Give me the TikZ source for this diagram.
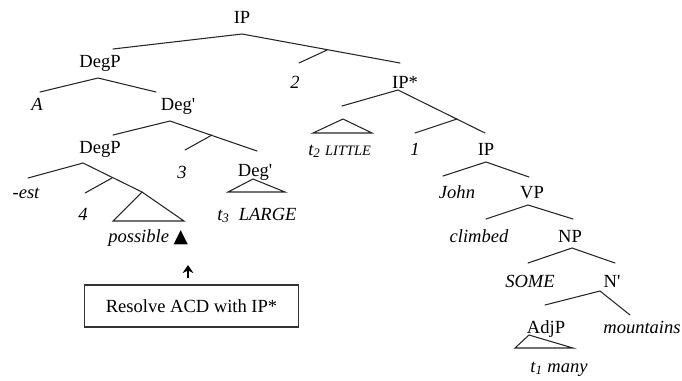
\documentclass[tikz,border=0pt]{standalone}
\usepackage{fontspec}
\setmainfont{Liberation Serif}[Ligatures=TeXOff]
\newfontfamily\symfont{DejaVu Sans}
\usetikzlibrary{arrows.meta}
\begin{document}
\begin{tikzpicture}[x=0.75pt,y=-0.75pt,
  lab/.style={anchor=base, inner sep=0pt, font=\fontsize{13.9}{16}\selectfont},
  itl/.style={lab, font=\fontsize{13.9}{16}\selectfont\itshape},
  br/.style={line width=0.8pt, draw=black!85, line cap=round},
  tri/.style={br, line join=miter},
  boxst/.style={draw=black!80, line width=0.9pt, minimum width=160pt, minimum height=31.5pt, inner sep=0pt, font=\fontsize{13.9}{16}\selectfont},
  arr/.style={line width=1.8pt, -{Stealth[length=6pt,width=8pt]}}]
\useasboundingbox (0,0) rectangle (682,380);

% labels
\node[lab] (ip) at (242,23) {IP};
\node[lab] (degp) at (100,67) {DegP};
\node[itl] (two) at (295,88) {2};
\node[lab] (ipstar) at (405,88) {IP*};
\node[itl] (a) at (37,110) {A};
\node[lab] (degbar) at (178,110) {Deg'};
\node[lab] (degp2) at (100,153) {DegP};
\node[itl] (three) at (182,178) {3};
\node[lab] (degbar2) at (255,176) {Deg'};
\node[itl] (est) at (26,198) {-est};
\node[itl] (four) at (83,220) {4};
\node[itl, anchor=base west] (t3) at (217,220) {t\textsubscript{3}\enspace LARGE};
\node[itl, anchor=base west] (possible) at (108,242) {possible {\upshape\symfont\fontsize{14}{16}\selectfont ▲}};
\node[itl, anchor=base west] (t2) at (308,155) {t\textsubscript{2} {\fontsize{10.8}{12}\selectfont LITTLE}};
\node[itl] (one) at (415,155) {1};
\node[lab] (ip2) at (486,155) {IP};
\node[itl] (john) at (457,198) {John};
\node[lab] (vp) at (532,198) {VP};
\node[itl] (climbed) at (479,242) {climbed};
\node[lab] (np) at (570,242) {NP};
\node[itl] (some) at (530,287) {SOME};
\node[lab] (nbar) at (612,287) {N'};
\node[lab] (adjp) at (546,333) {AdjP};
\node[itl] (mountains) at (642,333) {mountains};
\node[itl] (t1) at (559,372) {t\textsubscript{1} many};

% box and arrow
\node[boxst] (box) at (191.5,306) {Resolve ACD with IP*};
\coordinate (arrbot) at (188,278);
\coordinate (arrtip) at (188,265);
\draw[arr] (arrbot) -- (arrtip);

% tree coordinates
\coordinate (ipA) at (242,34);
\coordinate (ipL) at (113,49);
\coordinate (ipR) at (400,63);
\coordinate (ipJ) at (327,50);
\coordinate (ipJ2) at (299,63);
\draw[br] (ipL) -- (ipA) -- (ipR);
\draw[br] (ipJ) -- (ipJ2);

\coordinate (dpA) at (98,78);
\draw[br] (40,92) -- (dpA) -- (156,92);

\coordinate (dbA) at (170,121);
\coordinate (dbJ) at (212,135);
\draw[br] (113,135) -- (dbA) -- (257,151);
\draw[br] (dbJ) -- (185,150);

\coordinate (dp2A) at (83,163);
\coordinate (dp2J) at (112,178);
\coordinate (posA) at (142,192);
\draw[br] (28,178) -- (dp2A) -- (posA);
\draw[br] (dp2J) -- (85,193);
\draw[tri] (posA) -- (113,221) -- (184,221) -- cycle;

\draw[tri] (253,179) -- (228,192) -- (285,192) -- cycle;

\coordinate (ipsA) at (398,90);
\coordinate (ipsJ) at (457,119);
\draw[br] (342,106) -- (ipsA) -- (485,133);
\draw[br] (ipsJ) -- (415,133);
\draw[tri] (343,119) -- (313,133) -- (372,133) -- cycle;

\draw[br] (443,176) -- (486,162) -- (529,177);
\draw[br] (486,219) -- (528,205) -- (573,219);
\draw[br] (528,263) -- (572,248) -- (615,263);
\draw[br] (545,305) -- (600,291) -- (630,315);
\draw[tri] (529,335) -- (515,348) -- (573,348) -- cycle;
\end{tikzpicture}
\end{document}
